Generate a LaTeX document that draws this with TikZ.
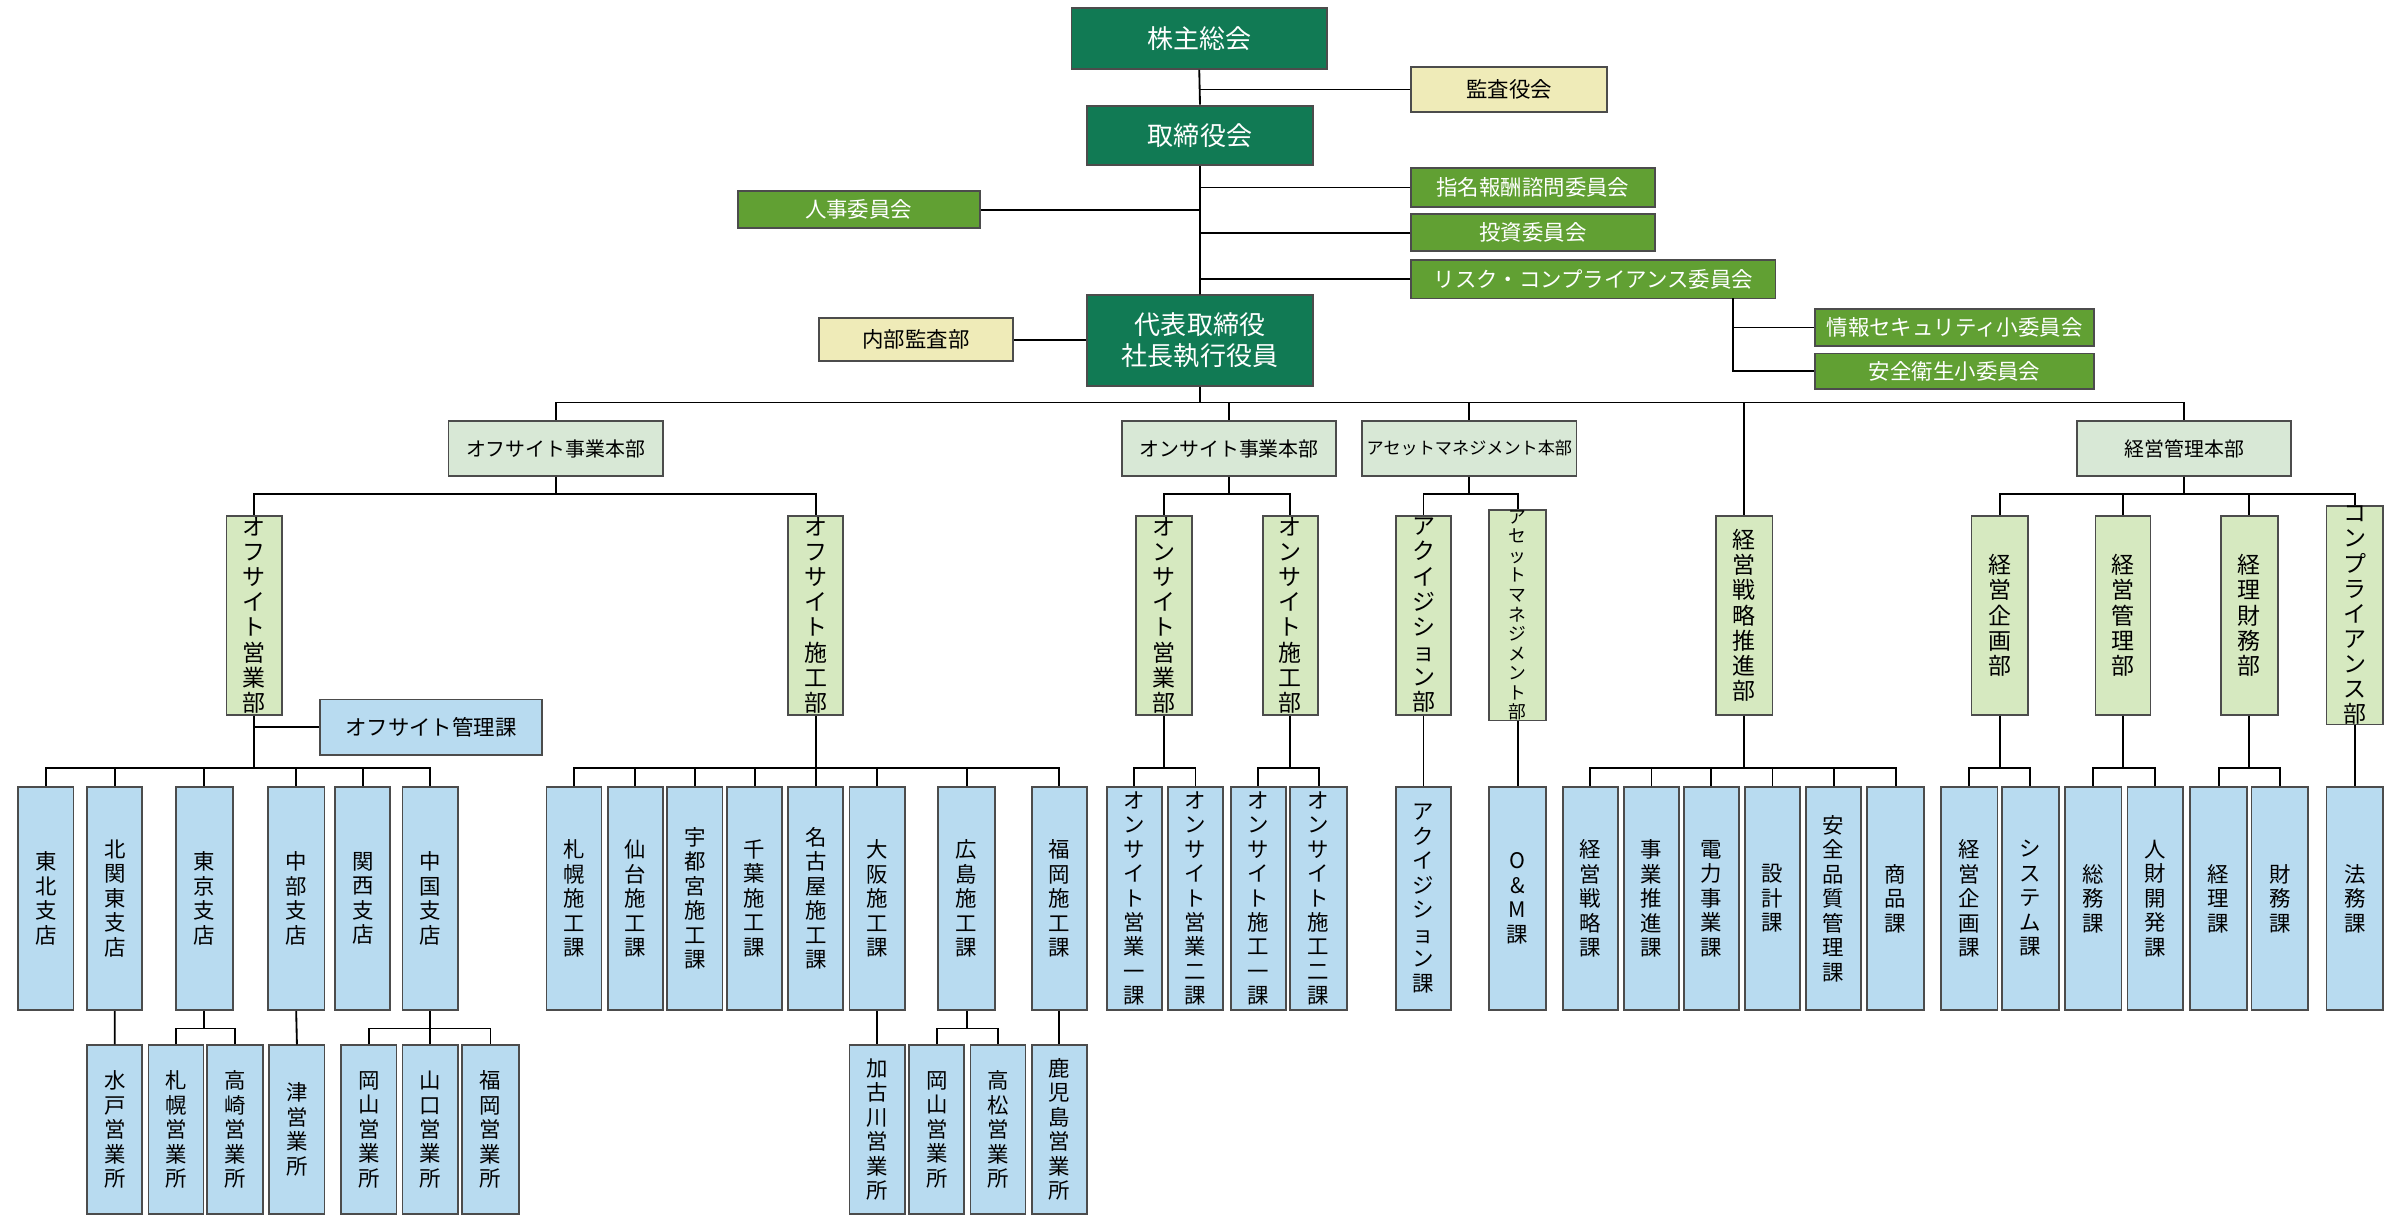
\documentclass[tikz,border=0pt]{standalone}
\usepackage{fontspec}
\setmainfont{Noto Sans CJK JP}
\definecolor{dkg}{RGB}{17,122,84}
\definecolor{mg}{RGB}{97,160,51}
\definecolor{yl}{RGB}{239,235,184}
\definecolor{pg}{RGB}{216,232,214}
\definecolor{lg}{RGB}{214,233,192}
\definecolor{bl}{RGB}{184,219,240}
\ExplSyntaxOn
\NewDocumentCommand\V{m}{\vbox{\tl_map_inline:nn{#1}{\hbox_to_wd:nn{1.2em}{\hss##1\hss}}}}
\ExplSyntaxOff
\newcommand\bxx[7]{\node[obox,#6,minimum width={(#4-#2)*0.5pt},minimum height={(#5-#3)*0.5pt}] (#1) at ({(#2+#4)/2},{(#3+#5)/2}) {#7};}
\newcommand\grp[3]{\draw (#1.south) -- (#1.south |- #2); \foreach \c in {#3}{\draw (\c.north) |- (#1.south |- #2);}}
\tikzset{
 obox/.style={draw=black!70,line width=0.6pt,inner sep=0pt},
 dtop/.style={fill=dkg,text=white,font=\fontsize{8.5}{10}\selectfont},
 gcm/.style={fill=mg,text=white,font=\fontsize{7}{8}\selectfont},
 ye/.style={fill=yl,font=\fontsize{7}{8}\selectfont},
 l2/.style={fill=pg,font=\fontsize{6.5}{8}\selectfont},
 l3/.style={fill=lg,font=\fontsize{7.5}{8.2}\selectfont},
 bu/.style={fill=bl,font=\fontsize{7}{8}\selectfont},
 bh/.style={fill=bl,font=\fontsize{7}{8}\selectfont},
}
\begin{document}
\begin{tikzpicture}[x=0.5pt,y=-0.5pt,line width=0.6pt]
\useasboundingbox (0,0) rectangle (1568,801);
\coordinate (L263) at (0,263);
\coordinate (L323) at (0,323);
\coordinate (L502) at (0,502);
\coordinate (L672) at (0,672);
% top
\bxx{kabu}{700}{5}{867}{45}{dtop}{株主総会}
\bxx{kansa}{922}{44}{1050}{73}{ye}{監査役会}
\bxx{tori}{710}{69}{858}{108}{dtop}{取締役会}
\bxx{shimei}{922}{110}{1081}{135}{gcm}{指名報酬諮問委員会}
\bxx{toshi}{922}{140}{1081}{164}{gcm}{投資委員会}
\bxx{risk}{922}{170}{1160}{195}{gcm}{リスク・コンプライアンス委員会}
\bxx{jinji}{482}{125}{640}{149}{gcm}{人事委員会}
\bxx{ceo}{710}{193}{858}{252}{dtop,align=center}{代表取締役\\社長執行役員}
\bxx{naibu}{535}{208}{662}{236}{ye}{内部監査部}
\bxx{joho}{1186}{202}{1368}{226}{gcm}{情報セキュリティ小委員会}
\bxx{anzen}{1186}{231}{1368}{254}{gcm}{安全衛生小委員会}
\draw (kabu.south) -- (tori.north) (tori.south) -- (ceo.north);
\draw (kansa.west) -- (kansa.west -| kabu.south);
\draw (shimei.west) -- (shimei.west -| tori.south);
\draw (toshi.west) -- (toshi.west -| tori.south);
\draw (risk.west) -- (risk.west -| tori.south);
\draw (jinji.east) -- (jinji.east -| tori.south);
\draw (naibu.east) -- (ceo.west |- naibu.east);
\coordinate (rk) at (1132,195);
\draw (rk) |- (joho.west);
\draw (rk) |- (anzen.west);
% level 2
\bxx{offhq}{293}{275}{433}{311}{l2}{オフサイト事業本部}
\bxx{onhq}{733}{275}{873}{311}{l2}{オンサイト事業本部}
\bxx{ashq}{890}{275}{1030}{311}{l2,font=\fontsize{5.6}{7}\selectfont}{アセットマネジメント本部}
\bxx{mghq}{1357}{275}{1497}{311}{l2}{経営管理本部}
% level 3
\bxx{offei}{148}{337}{184}{467}{l3}{\V{オフサイト営業部}}
\bxx{offse}{515}{337}{551}{467}{l3}{\V{オフサイト施工部}}
\bxx{onei}{742}{337}{779}{467}{l3}{\V{オンサイト営業部}}
\bxx{onse}{825}{337}{861}{467}{l3}{\V{オンサイト施工部}}
\bxx{acq}{912}{337}{948}{467}{l3}{\V{アクイジション部}}
\bxx{am}{973}{337}{1010}{467}{l3,font=\fontsize{5.8}{6.4}\selectfont}{\V{アセットマネジメント部}}
\bxx{senr}{1121}{337}{1158}{467}{l3}{\V{経営戦略推進部}}
\bxx{kiga}{1288}{337}{1325}{467}{l3}{\V{経営企画部}}
\bxx{kanr}{1369}{337}{1405}{467}{l3}{\V{経営管理部}}
\bxx{zaim}{1451}{337}{1488}{467}{l3}{\V{経理財務部}}
\bxx{comp}{1520}{337}{1557}{467}{l3}{\V{コンプライアンス部}}
\bxx{offkan}{209}{457}{354}{493}{bh}{オフサイト管理課}
% connectors level1-3
\draw (ceo.south) -- (ceo.south |- L263);
\foreach \c in {offhq,onhq,ashq,mghq,senr}{\draw (\c.north) |- (ceo.south |- L263);}
\grp{offhq}{L323}{offei,offse}
\grp{onhq}{L323}{onei,onse}
\grp{ashq}{L323}{acq,am}
\grp{mghq}{L323}{kiga,kanr,zaim,comp}
\draw (offkan.west) -- (offkan.west -| offei.south);
% branches
\bxx{tohoku}{12}{514}{48}{660}{bu}{\V{東北支店}}
\bxx{kitak}{57}{514}{93}{660}{bu}{\V{北関東支店}}
\bxx{tokyo}{115}{514}{152}{660}{bu}{\V{東京支店}}
\bxx{chubu}{175}{514}{212}{660}{bu}{\V{中部支店}}
\bxx{kansai}{219}{514}{255}{660}{bu}{\V{関西支店}}
\bxx{chugoku}{263}{514}{299}{660}{bu}{\V{中国支店}}
\grp{offei}{L502}{tohoku,kitak,tokyo,chubu,kansai,chugoku}
\bxx{mito}{57}{683}{93}{793}{bu}{\V{水戸営業所}}
\bxx{sap}{97}{683}{133}{793}{bu}{\V{札幌営業所}}
\bxx{taka}{135}{683}{172}{793}{bu}{\V{高崎営業所}}
\bxx{tsu}{176}{683}{212}{793}{bu}{\V{津営業所}}
\bxx{oka}{223}{683}{259}{793}{bu}{\V{岡山営業所}}
\bxx{yama}{263}{683}{299}{793}{bu}{\V{山口営業所}}
\bxx{fuku}{302}{683}{339}{793}{bu}{\V{福岡営業所}}
\draw (kitak.south) -- (mito.north) (chubu.south) -- (tsu.north);
\grp{tokyo}{L672}{sap,taka}
\grp{chugoku}{L672}{oka,yama,fuku}
% construction
\bxx{s1}{357}{514}{393}{660}{bu}{\V{札幌施工課}}
\bxx{s2}{397}{514}{433}{660}{bu}{\V{仙台施工課}}
\bxx{s3}{436}{514}{472}{660}{bu}{\V{宇都宮施工課}}
\bxx{s4}{475}{514}{511}{660}{bu}{\V{千葉施工課}}
\bxx{s5}{515}{514}{551}{660}{bu}{\V{名古屋施工課}}
\bxx{s6}{555}{514}{591}{660}{bu}{\V{大阪施工課}}
\bxx{s7}{613}{514}{650}{660}{bu}{\V{広島施工課}}
\bxx{s8}{674}{514}{710}{660}{bu}{\V{福岡施工課}}
\grp{offse}{L502}{s1,s2,s3,s4,s5,s6,s7,s8}
\bxx{kako}{555}{683}{591}{793}{bu}{\V{加古川営業所}}
\bxx{oka2}{594}{683}{630}{793}{bu}{\V{岡山営業所}}
\bxx{takm}{634}{683}{670}{793}{bu}{\V{高松営業所}}
\bxx{kago}{674}{683}{710}{793}{bu}{\V{鹿児島営業所}}
\draw (s6.south) -- (kako.north) (s8.south) -- (kago.north);
\grp{s7}{L672}{oka2,takm}
% onsite
\bxx{oe1}{723}{514}{759}{660}{bu}{\V{オンサイト営業一課}}
\bxx{oe2}{763}{514}{799}{660}{bu}{\V{オンサイト営業二課}}
\bxx{os1}{804}{514}{840}{660}{bu}{\V{オンサイト施工一課}}
\bxx{os2}{843}{514}{880}{660}{bu}{\V{オンサイト施工二課}}
\grp{onei}{L502}{oe1,oe2}
\grp{onse}{L502}{os1,os2}
% asset
\bxx{acqk}{912}{514}{948}{660}{bu}{\V{アクイジション課}}
\bxx{omk}{973}{514}{1010}{660}{bu}{\V{O\&M課}}
\draw (acq.south) -- (acqk.north) (am.south) -- (omk.north);
% strategy
\bxx{k1}{1021}{514}{1057}{660}{bu}{\V{経営戦略課}}
\bxx{k2}{1061}{514}{1097}{660}{bu}{\V{事業推進課}}
\bxx{k3}{1100}{514}{1136}{660}{bu}{\V{電力事業課}}
\bxx{k4}{1140}{514}{1176}{660}{bu}{\V{設計課}}
\bxx{k5}{1180}{514}{1216}{660}{bu}{\V{安全品質管理課}}
\bxx{k6}{1220}{514}{1257}{660}{bu}{\V{商品課}}
\grp{senr}{L502}{k1,k2,k3,k4,k5,k6}
% management
\bxx{m1}{1268}{514}{1305}{660}{bu}{\V{経営企画課}}
\bxx{m2}{1308}{514}{1345}{660}{bu}{\V{システム課}}
\bxx{m3}{1349}{514}{1386}{660}{bu}{\V{総務課}}
\bxx{m4}{1390}{514}{1426}{660}{bu}{\V{人財開発課}}
\bxx{m5}{1431}{514}{1468}{660}{bu}{\V{経理課}}
\bxx{m6}{1471}{514}{1508}{660}{bu}{\V{財務課}}
\bxx{m7}{1520}{514}{1557}{660}{bu}{\V{法務課}}
\grp{kiga}{L502}{m1,m2}
\grp{kanr}{L502}{m3,m4}
\grp{zaim}{L502}{m5,m6}
\draw (comp.south) -- (m7.north);
\end{tikzpicture}
\end{document}
